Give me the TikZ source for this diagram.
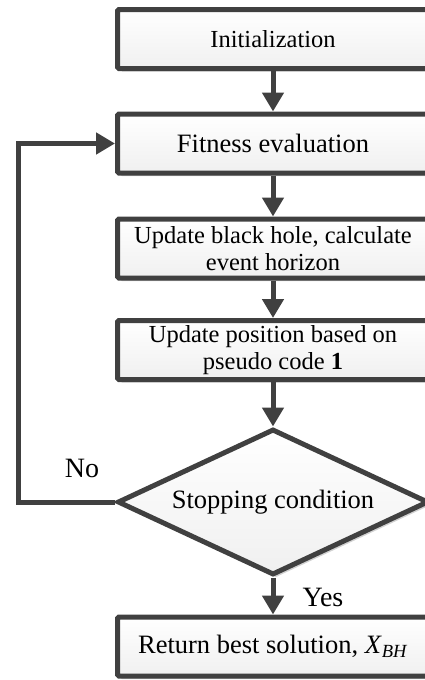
\documentclass[tikz,border=0pt]{standalone}
\usepackage{fontspec}
\setmainfont{Liberation Serif}
\usepackage{tikz}
\usetikzlibrary{arrows.meta,shapes.geometric,shadows}
\definecolor{edge}{HTML}{404040}

\begin{document}
\begin{tikzpicture}[x=1pt, y=1pt, font=\fontsize{24.5}{27}\selectfont, >={Triangle[width=21pt,length=19pt]},
	box/.style={draw=edge, line width=5pt, rounded corners=1.5pt, top color=white, bottom color=gray!12,
		minimum width=311pt, minimum height=59pt, inner sep=0pt, align=center,
		drop shadow={shadow xshift=3pt, shadow yshift=-3pt, opacity=0.18, fill=black}},
	decision/.style={diamond, draw=edge, line width=5pt, top color=white, bottom color=gray!12,
		minimum width=311pt, minimum height=146pt, inner sep=0pt, aspect=2.1,
		drop shadow={shadow xshift=3pt, shadow yshift=-3pt, opacity=0.18, fill=black}},
	big/.style={font=\fontsize{26.5}{29}\selectfont},
	line/.style={draw=edge, line width=5pt, ->}]
			\clip (0,0) rectangle (425,-680);

			% --- Cajas del diagrama ---
			\node[box] (init) at (273,-39)    {Initialization};
			\node[box, big] (fit)  at (273,-143.5) {Fitness evaluation};
			\node[box] (bh)   at (273,-248.5) {Update black hole, calculate\\event horizon};
			\node[box] (pos)  at (273,-350)   {Update position based on\\pseudo code \textbf{1}};
			\node[decision, big] (stop) at (273,-502) {Stopping condition};
			\node[box, big] (ret)  at (273,-646.5) {Return best solution, \textit{X}\textsubscript{\textit{BH}}};

			% --- Flechas ---
			\draw[line] (init) -- (fit);
			\draw[line] (fit) -- (bh);
			\draw[line] (bh) -- (pos);
			\draw[line] (pos) -- (stop);
			\draw[line] (stop) -- (ret);

			% Lazo de retorno
			\coordinate (loop) at (18.5,-502);
			\draw[line] (stop.west) -- (loop) |- (fit.west);

			% Etiquetas
			\node[font=\fontsize{28}{30}\selectfont] (no)  at (82,-468)  {No};
			\node[font=\fontsize{28}{30}\selectfont] (yes) at (323,-597) {Yes};
		\end{tikzpicture}
\end{document}
